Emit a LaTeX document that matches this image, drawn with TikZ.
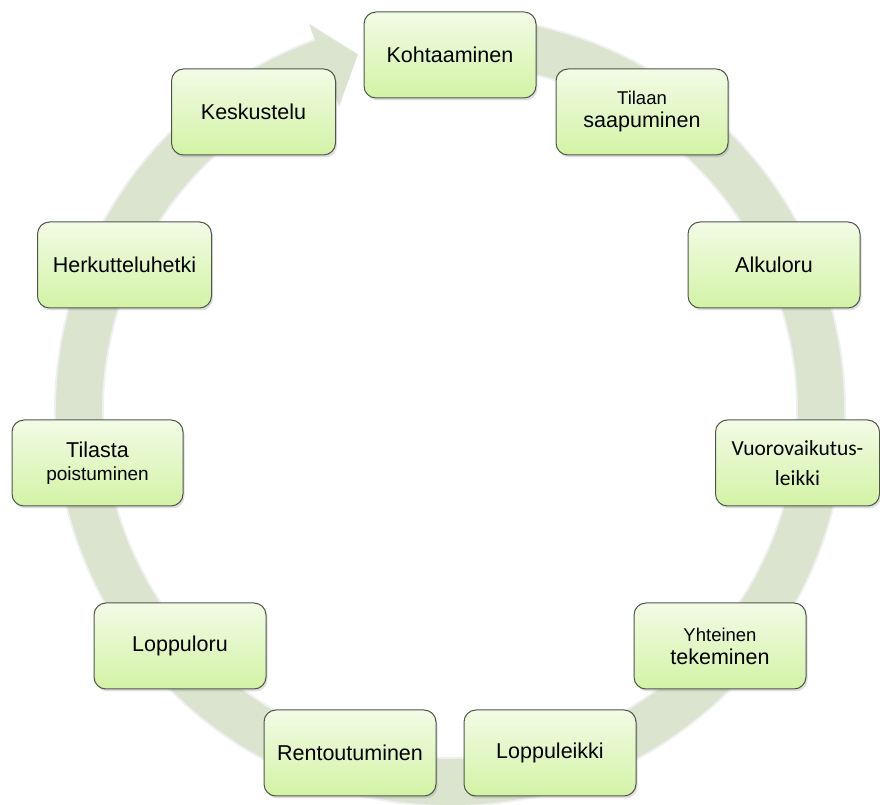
\documentclass[tikz,border=0pt]{standalone}
\usepackage{fontspec}
\setmainfont{Liberation Sans}
\newfontfamily\calib{Carlito}
\usetikzlibrary{shadows}
\definecolor{bandcol}{RGB}{218,228,207}
\definecolor{boxtop}{RGB}{242,251,230}
\definecolor{boxbot}{RGB}{211,243,165}
\definecolor{boxline}{RGB}{80,85,75}
\tikzset{
  stepbox/.style={draw=boxline, line width=1pt, rounded corners=12pt,
    top color=boxtop, bottom color=boxbot,
    minimum width=172pt, minimum height=86pt, inner sep=0pt, align=center,
    font=\fontsize{21.5}{25}\selectfont,
    drop shadow={opacity=0.25, shadow xshift=1.5pt, shadow yshift=-2.5pt}},
  smalltxt/.style={font=\fontsize{18.5}{22}\selectfont}
}
\begin{document}
\begin{tikzpicture}[x=1pt,y=1pt]
\useasboundingbox (0,0) rectangle (880,805);
% circular arrow band
\begin{scope}[shift={(450,394)}]
\fill[gray, opacity=0.12] (85:396) arc[start angle=85, end angle=-250, radius=396]
  -- (-250:413) -- (-255.5:369) -- (-250:323) -- (-250:346)
  arc[start angle=-250, end angle=85, radius=346] -- cycle;
\fill[bandcol] (85:394) arc[start angle=85, end angle=-250, radius=394]
  -- (-250:411) -- (-255.5:368) -- (-250:325) -- (-250:348)
  arc[start angle=-250, end angle=85, radius=348] -- cycle;
\end{scope}
% boxes
\node[stepbox] (n1) at (450,750) {Kohtaaminen};
\node[stepbox] (n2) at (642,693) {{\fontsize{18.5}{22}\selectfont Tilaan}\\[-2pt]saapuminen};
\node[stepbox] (n3) at (774,540) {Alkuloru};
\node[stepbox, minimum width=164pt, font=\calib\fontsize{21.5}{30}\selectfont] (n4) at (797.5,342) {Vuorovaikutus-\\leikki};
\node[stepbox] (n5) at (720,159) {{\fontsize{18.5}{22}\selectfont Yhteinen}\\[-2pt]tekeminen};
\node[stepbox] (n6) at (550,52) {Loppuleikki};
\node[stepbox] (n7) at (350,52) {Rentoutuminen};
\node[stepbox] (n8) at (180,159) {Loppuloru};
\node[stepbox, minimum width=171pt] (n9) at (97.5,342) {Tilasta\\[-2pt]{\fontsize{19}{22}\selectfont poistuminen}};
\node[stepbox, minimum width=174pt] (n10) at (124.5,540) {Herkutteluhetki};
\node[stepbox, minimum width=164pt] (n11) at (253.5,693) {Keskustelu};
\end{tikzpicture}
\end{document}
